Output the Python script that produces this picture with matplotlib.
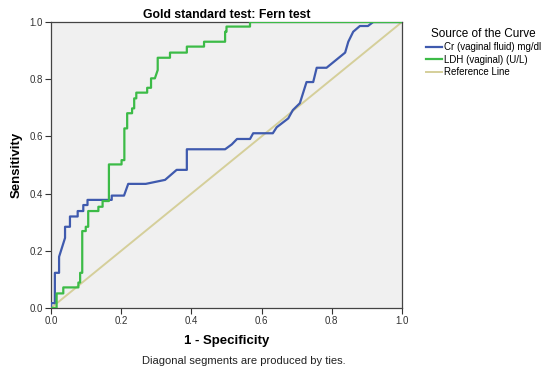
import matplotlib
matplotlib.use("Agg")
import matplotlib.pyplot as plt

plt.rcParams['font.family'] = ['Liberation Sans', 'DejaVu Sans']

# ROC curve points (1 - specificity, sensitivity)
cr_x = [0.0, 0.0, 0.011, 0.011, 0.023, 0.023, 0.04, 0.04, 0.054, 0.054, 0.076, 0.076,
        0.092, 0.092, 0.104, 0.104, 0.173, 0.173, 0.208, 0.22, 0.27, 0.325, 0.358,
        0.387, 0.387, 0.496, 0.515, 0.53, 0.567, 0.576, 0.632, 0.643, 0.676, 0.689,
        0.709, 0.728, 0.747, 0.757, 0.785, 0.838, 0.847, 0.861, 0.88, 0.903, 0.918, 1.0]
cr_y = [0.0, 0.017, 0.017, 0.123, 0.123, 0.179, 0.245, 0.284, 0.284, 0.32, 0.32, 0.339,
        0.339, 0.36, 0.36, 0.378, 0.378, 0.393, 0.393, 0.434, 0.434, 0.448, 0.483,
        0.483, 0.555, 0.555, 0.572, 0.591, 0.591, 0.611, 0.611, 0.632, 0.663, 0.692,
        0.716, 0.79, 0.79, 0.84, 0.84, 0.893, 0.931, 0.966, 0.986, 0.986, 1.0, 1.0]

ldh_x = [0.0, 0.016, 0.016, 0.035, 0.035, 0.078, 0.078, 0.083, 0.083, 0.089, 0.089,
         0.099, 0.099, 0.106, 0.106, 0.135, 0.135, 0.147, 0.147, 0.165, 0.165, 0.201,
         0.201, 0.209, 0.209, 0.217, 0.217, 0.231, 0.231, 0.237, 0.237, 0.243, 0.243,
         0.274, 0.274, 0.285, 0.285, 0.296, 0.304, 0.304, 0.339, 0.339, 0.387, 0.387,
         0.436, 0.436, 0.496, 0.496, 0.5, 0.5, 0.567, 0.567, 1.0]
ldh_y = [0.0, 0.0, 0.051, 0.051, 0.072, 0.072, 0.089, 0.089, 0.123, 0.123, 0.269,
         0.269, 0.284, 0.284, 0.339, 0.339, 0.354, 0.354, 0.374, 0.374, 0.502, 0.502,
         0.517, 0.517, 0.628, 0.628, 0.681, 0.681, 0.698, 0.698, 0.733, 0.733, 0.753,
         0.753, 0.77, 0.77, 0.803, 0.803, 0.832, 0.875, 0.875, 0.893, 0.893, 0.914,
         0.914, 0.931, 0.931, 0.966, 0.966, 0.984, 0.984, 1.0, 1.0]

ref_x = [0.0, 1.0]
ref_y = [0.0, 1.0]

ticks = [0.0, 0.2, 0.4, 0.6, 0.8, 1.0]
tick_labels = ['0.0', '0.2', '0.4', '0.6', '0.8', '1.0']

fig = plt.figure(figsize=(5.52, 3.74), dpi=100)
ax = fig.add_axes([51 / 552, 66 / 374, 351 / 552, 286 / 374])
ax.set_facecolor('#F0F0F0')

ax.plot(ref_x, ref_y, color='#D5CF9A', lw=1.4, label='Reference Line', zorder=2)
ax.plot(cr_x, cr_y, color='#3F5AAE', lw=1.6, label='Cr (vaginal fluid) mg/dl', zorder=3)
ax.plot(ldh_x, ldh_y, color='#3CBB47', lw=1.6, label='LDH (vaginal) (U/L)', zorder=4)

ax.set_xlim(0, 1)
ax.set_ylim(0, 1)
ax.set_xticks(ticks)
ax.set_xticklabels(tick_labels)
ax.set_yticks(ticks)
ax.set_yticklabels(tick_labels)
ax.tick_params(direction='out', length=4, width=0.8, labelsize=7, colors='#333333', pad=2)
for s in ax.spines.values():
    s.set_color('#444444')
    s.set_linewidth(0.9)

ax.set_title('Gold standard test: Fern test', fontsize=8.8, fontweight='bold', pad=3)
ax.set_xlabel('1 - Specificity', fontsize=9.5, fontweight='bold', labelpad=6)
ax.set_ylabel('Sensitivity', fontsize=9.5, fontweight='bold', labelpad=5)

handles, labels = ax.get_legend_handles_labels()
order = [1, 2, 0]
leg = fig.legend([handles[i] for i in order], [labels[i] for i in order],
                 loc='upper left', bbox_to_anchor=(426 / 552, 1 - 28 / 374),
                 frameon=False, fontsize=7, title='Source of the Curve',
                 title_fontsize=8.5, handlelength=1.6, handletextpad=0.3,
                 labelspacing=0.25, borderaxespad=0, borderpad=0)
leg._legend_box.align = 'center'

fig.text(244 / 552, 1 - 361 / 374, 'Diagonal segments are produced by ties.',
         ha='center', va='center', fontsize=8, color='#222222')

fig.savefig('out.png', dpi=100, facecolor='white')
